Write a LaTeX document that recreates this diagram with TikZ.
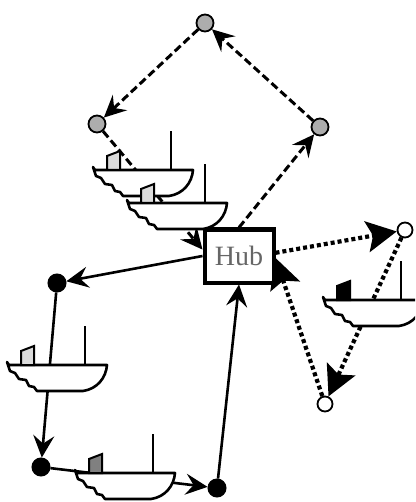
\documentclass[tikz,border=0pt]{standalone}
\usepackage{fontspec}
\setmainfont{Liberation Serif}
\usepackage{tikz}
\usetikzlibrary{arrows.meta,positioning}

\definecolor{nodegray}{gray}{0.68}
\definecolor{cabinlight}{gray}{0.86}
\definecolor{cabindark}{gray}{0.5}
\definecolor{hubtext}{gray}{0.4}

\begin{document}
\begin{tikzpicture}[x=1pt,y=-1pt,
	graynode/.style={circle,draw,fill=nodegray,line width=1.8pt,minimum size=17pt,inner sep=0pt},
	blacknode/.style={circle,draw,fill=black,line width=1pt,minimum size=18pt,inner sep=0pt},
	whitenode/.style={circle,draw,fill=white,line width=1.8pt,minimum size=15pt,inner sep=0pt},
	hubbox/.style={draw,line width=4pt,minimum width=69pt,minimum height=53pt,inner sep=0pt,
		text=hubtext,font=\fontsize{28}{28}\selectfont},
	dashline/.style={line width=3pt,dash pattern=on 8pt off 4pt,-{Stealth[length=22pt,width=21pt,inset=8pt]}},
	solidline/.style={line width=2.6pt,-{Stealth[length=22pt,width=21pt,inset=8pt]}},
	dotline/.style={line width=4.2pt,dash pattern=on 4pt off 3pt,-{Stealth[length=30pt,width=31pt,inset=6pt]}},
	pics/boat/.style={code={
		\draw[line width=2.6pt,fill=white,line join=round] (0,-3) -- (2,0) -- (100,0)
			.. controls (99,13) and (90,24) .. (76,26) -- (30,26) -- (27,22) -- (22,21)
			-- (19,15) -- (12,14) -- (8,8) -- (3,6) -- cycle;
		\draw[line width=2pt,fill=#1] (14,0) -- (14,-14) -- (27,-19) -- (27,0) -- cycle;
		\draw[line width=2.4pt] (78,0) -- (78,-39);
	}}]
	\clip (0,0) rectangle (415,502);

	% nodes
	\node[hubbox] (hub) at (239,256) {Hub};
	\node[graynode] (gt) at (205,23) {};
	\node[graynode] (gl) at (97,124) {};
	\node[graynode] (gr) at (320,127) {};
	\node[blacknode] (b1) at (57,283) {};
	\node[blacknode] (b2) at (41,467) {};
	\node[blacknode] (b3) at (217,488) {};
	\node[whitenode] (w1) at (405,230) {};
	\node[whitenode] (w2) at (325,404) {};

	% dashed ring through the gray nodes
	\draw[dashline] (hub.north) -- (gr);
	\draw[dashline] (gr) -- (gt);
	\draw[dashline] (gt) -- (gl);
	\draw[dashline] (gl) -- (hub.170);

	% solid ring through the black nodes
	\draw[solidline] (hub.west) -- (b1);
	\draw[solidline] (b1) -- (b2);
	\draw[solidline] (b2) -- (b3);
	\draw[solidline] (b3) -- (hub.south);

	% dotted ring through the white nodes
	\draw[dotline] (hub.5) -- (w1);
	\draw[dotline] (w1) -- (w2);
	\draw[dotline] (w2) -- (hub.-3);

	% boats on top of the routes
	\pic at (93,170) {boat=cabinlight};
	\pic at (127,203) {boat=cabinlight};
	\pic at (7,365) {boat=cabinlight};
	\pic at (75,473) {boat=cabindark};
	\pic at (323,300) {boat=black};
\end{tikzpicture}
\end{document}
